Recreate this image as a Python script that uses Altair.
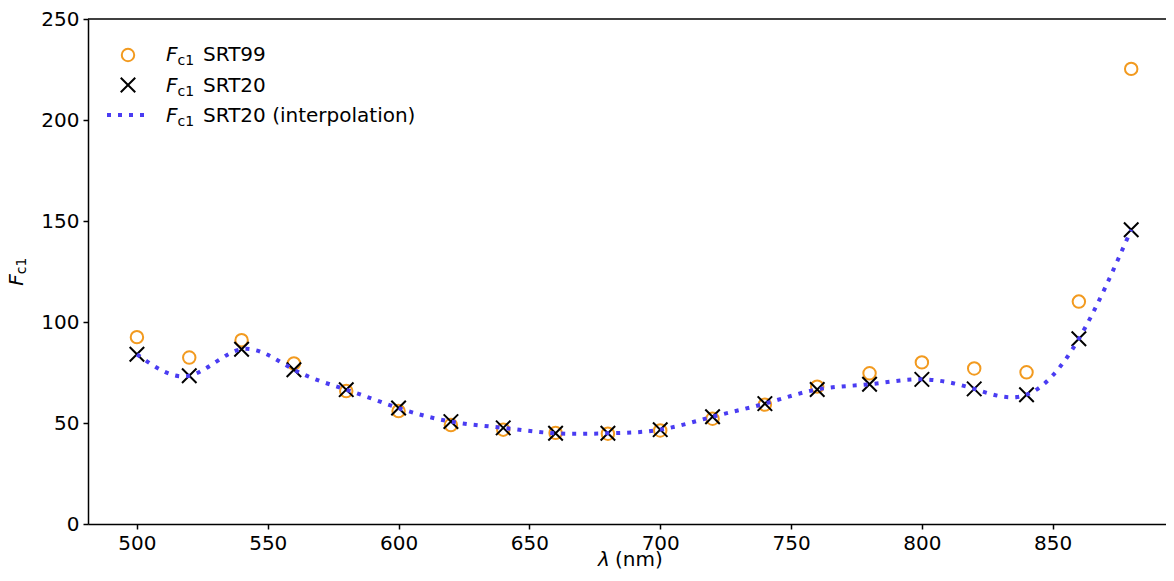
import altair as alt
import pandas as pd

# ---- data ----
wavelengths = [500, 520, 540, 560, 580, 600, 620, 640, 660, 680,
               700, 720, 740, 760, 780, 800, 820, 840, 860, 880]
fc1_srt99 = [92.5, 82.4, 91.0, 79.5, 65.8, 55.9, 49.0, 46.7, 45.1, 44.7,
             46.3, 52.1, 59.1, 68.0, 74.6, 80.0, 77.0, 75.1, 110.1, 225.3]
fc1_srt20 = [84.0, 73.4, 86.5, 76.4, 66.5, 57.4, 50.7, 47.6, 44.9, 44.9,
             46.7, 53.1, 59.6, 66.6, 69.2, 71.6, 66.9, 64.0, 91.7, 145.7]

x_ticks = [500, 550, 600, 650, 700, 750, 800, 850]
y_ticks = [0, 50, 100, 150, 200, 250]

legend_labels = ["SRT99", "SRT20", "SRT20 (interpolation)"]

ORANGE = "#f29a1f"
BLUE = "#4a3cf2"
FONT = "DejaVu Sans"
W, H = 1078, 505

df = pd.DataFrame({"wl": wavelengths, "srt99": fc1_srt99, "srt20": fc1_srt20})
one = pd.DataFrame({"a": [0]})

xs = alt.Scale(domain=[481.3, 893.3], nice=False, zero=False)
ys = alt.Scale(domain=[0, 250], nice=False)
xaxis = alt.Axis(values=x_ticks, title=None, grid=False)
yaxis = alt.Axis(values=y_ticks, title=None, grid=False)

XPATH = "M-1,-1L1,1M-1,1L1,-1"

base = alt.Chart(df)
circles = base.mark_point(shape="circle", filled=False, size=155, strokeWidth=2,
                          color=ORANGE, opacity=1).encode(
    x=alt.X("wl:Q", scale=xs, axis=xaxis),
    y=alt.Y("srt99:Q", scale=ys, axis=yaxis),
)
crosses = base.mark_point(shape=XPATH, filled=False, size=210, strokeWidth=2,
                          color="black", opacity=1).encode(
    x=alt.X("wl:Q", scale=xs),
    y=alt.Y("srt20:Q", scale=ys),
)
interp = base.mark_line(interpolate="natural", strokeDash=[4, 7], strokeWidth=4,
                        color=BLUE).encode(
    x=alt.X("wl:Q", scale=xs),
    y=alt.Y("srt20:Q", scale=ys),
)

top_spine = alt.Chart(one).mark_rule(color="black", strokeWidth=1.5).encode(
    x=alt.value(0), x2=alt.value(W), y=alt.value(0))

# ---- legend ----
leg_circle = alt.Chart(one).mark_point(shape="circle", filled=False, size=155,
                                       strokeWidth=2, color=ORANGE, opacity=1).encode(
    x=alt.value(40), y=alt.value(36))
leg_cross = alt.Chart(one).mark_point(shape=XPATH, filled=False, size=210,
                                      strokeWidth=2, color="black", opacity=1).encode(
    x=alt.value(40), y=alt.value(66))
leg_line = alt.Chart(one).mark_rule(strokeDash=[4, 7], strokeWidth=4, color=BLUE).encode(
    x=alt.value(19), x2=alt.value(57), y=alt.value(96))

def txt(s, x, y, size=20, italic=False, angle=0, align="left", baseline="alphabetic"):
    kw = dict(font=FONT, fontSize=size, color="black", align=align, baseline=baseline)
    if italic:
        kw["fontStyle"] = "italic"
    if angle:
        kw["angle"] = angle
    return alt.Chart(one).mark_text(**kw).encode(
        x=alt.value(x), y=alt.value(y), text=alt.value(s))

legend_texts = []
for i, lab in enumerate(legend_labels):
    yb = 42 + 30.5 * i
    legend_texts += [
        txt("F", 78, yb, italic=True),
        txt("c1", 89.5, yb + 4, size=14),
        txt(lab, 115, yb),
    ]

# axis titles
ytitle = [
    txt("F", -71, 261, italic=True, angle=270, align="center", baseline="middle"),
    txt("c1", -66, 247, size=14, angle=270, align="center", baseline="middle"),
]
xtitle = [
    txt("λ", 510, 547, italic=True),
    txt("(nm)", 527, 547),
]

chart = alt.layer(
    circles, crosses, interp, top_spine,
    leg_circle, leg_cross, leg_line, *legend_texts, *ytitle, *xtitle,
).properties(
    width=W, height=H,
    autosize=alt.AutoSizeParams(type="none"),
    padding={"left": 80, "top": 11, "right": 0, "bottom": 48},
).configure_view(stroke=None).configure_axis(
    labelFont=FONT, labelFontSize=20, labelColor="black",
    domainColor="black", domainWidth=1.5, tickColor="black",
    tickWidth=1.5, tickSize=5, labelPadding=4,
)

chart.save("out.html", embed_options={"renderer": "svg", "actions": False})
